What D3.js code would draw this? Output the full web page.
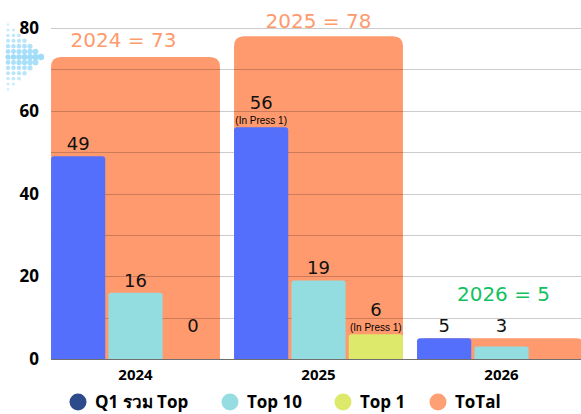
<!DOCTYPE html>
<html>
<head>
<meta charset="utf-8">
<script src="https://cdn.jsdelivr.net/npm/d3@7"></script>
<style>
  body { margin: 0; background: #fff; }
  text { font-family: "Liberation Sans", Arial, sans-serif; }
</style>
</head>
<body>
<div class="chart"></div>
<script>
var years = ["2024", "2025", "2026"];
var q1Top = [49, 56, 5];
var top10 = [16, 19, 3];
var top1 = [0, 6, 0];
var total = [73, 78, 5];
var top1Shown = [true, true, false];
var inPress = ["", "(In Press  1)", ""];
var q1Press = ["", "(In Press  1)", ""];
var totalLabels = ["2024 = 73", "2025 = 78", "2026 = 5"];
var yTicks = [0, 20, 40, 60, 80];
var seriesNames = ["Q1 รวม Top", "Top 10", "Top 1", "ToTal"];

var W = 581, H = 414;
var svg = d3.select(".chart").append("svg")
    .attr("width", W)
    .attr("height", H);

var x = d3.scaleBand()
    .domain(years)
    .range([44, 593])
    .paddingInner(0.077)
    .paddingOuter(0.0385);

var sub = d3.scaleBand()
    .domain(["q1", "t10", "t1"])
    .range([0, x.bandwidth()])
    .paddingInner(0.055);

var y = d3.scaleLinear()
    .domain([0, 80])
    .range([359, 28]);

// decorative dot triangle
var deco = svg.append("g");
for (var c = 0; c < 7; c++) {
  var n = 13 - c * 2;
  for (var r = 0; r < n; r++) {
    var cy = 57 + (r - (n - 1) / 2) * 5.4;
    var dist = Math.abs(r - (n - 1) / 2) / 6.5;
    deco.append("circle")
        .attr("cx", 8 + c * 5.5)
        .attr("cy", cy)
        .attr("r", 1.2 + (1 - dist) * 1.4 + c * 0.1)
        .attr("fill", "#8fd6f7")
        .attr("opacity", 0.35 + (1 - dist) * 0.5);
  }
}

// x axis line
svg.append("line")
    .attr("x1", 51).attr("x2", W)
    .attr("y1", y(0) + 0.5).attr("y2", y(0) + 0.5)
    .attr("stroke", "#6f6f6f");

// total bars (rounded top)
function topRounded(x0, y0, w, h, rr) {
  rr = Math.min(rr, h, w / 2);
  return "M" + x0 + "," + (y0 + h) +
    "V" + (y0 + rr) +
    "Q" + x0 + "," + y0 + " " + (x0 + rr) + "," + y0 +
    "H" + (x0 + w - rr) +
    "Q" + (x0 + w) + "," + y0 + " " + (x0 + w) + "," + (y0 + rr) +
    "V" + (y0 + h) + "Z";
}

svg.append("g").selectAll("path")
    .data(years)
    .enter().append("path")
      .attr("d", (d, i) => topRounded(x(d), y(total[i]), x.bandwidth(), y(0) - y(total[i]), 10))
      .attr("fill", "#fe9a6d");

// gridlines every 10
var grid = svg.append("g");
d3.range(10, 81, 10).forEach(function(v) {
  grid.append("line")
      .attr("x1", 51).attr("x2", W)
      .attr("y1", Math.round(y(v)) + 0.5).attr("y2", Math.round(y(v)) + 0.5)
      .attr("stroke", "#000")
      .attr("stroke-opacity", 0.2);
});

// y tick labels
svg.append("g").selectAll("text")
    .data(yTicks)
    .enter().append("text")
      .attr("x", 39)
      .attr("y", d => y(d))
      .attr("dy", "0.36em")
      .attr("text-anchor", "end")
      .style("font-family", "'Open Sans', sans-serif")
      .style("font-weight", "bold")
      .style("font-size", "17px")
      .text(d => d);

// sub bars
var subs = [
  { key: "q1", vals: q1Top, color: "#546ffc" },
  { key: "t10", vals: top10, color: "#93dce0" },
  { key: "t1", vals: top1, color: "#dce96a" }
];

subs.forEach(function(s) {
  svg.append("g").selectAll("path")
      .data(years)
      .enter().append("path")
        .attr("d", (d, i) => {
          var v = s.vals[i];
          if (v <= 0) return null;
          return topRounded(x(d) + sub(s.key), y(v), sub.bandwidth(), y(0) - y(v), 3);
        })
        .attr("fill", s.color);
});

// value labels
subs.forEach(function(s) {
  svg.append("g").selectAll("text")
      .data(years)
      .enter().filter((d, i) => s.key != "t1" || top1Shown[i])
      .append("text")
        .attr("x", d => x(d) + sub(s.key) + sub.bandwidth() / 2)
        .attr("y", function(d) {
          var i = years.indexOf(d);
          var v = s.vals[i];
          var extra = (s.key == "q1" && q1Press[i]) || (s.key == "t1" && inPress[i]) ? 12 : 0;
          return Math.min(y(v), y(5)) - 6 - extra;
        })
        .attr("text-anchor", "middle")
        .style("font-family", "'DejaVu Sans', sans-serif")
        .style("font-size", "18px")
        .style("fill", "#111")
        .text(d => s.vals[years.indexOf(d)]);
});

// (In Press 1) notes
svg.append("g").selectAll("text")
    .data(years)
    .enter().append("text")
      .attr("x", d => x(d) + sub("q1") + sub.bandwidth() / 2)
      .attr("y", (d, i) => y(q1Top[i]) - 3)
      .attr("text-anchor", "middle")
      .style("font-size", "10px")
      .text((d, i) => q1Press[i]);

svg.append("g").selectAll("text")
    .data(years)
    .enter().append("text")
      .attr("x", d => x(d) + sub("t1") + sub.bandwidth() / 2)
      .attr("y", (d, i) => y(top1[i]) - 3)
      .attr("text-anchor", "middle")
      .style("font-size", "10px")
      .text((d, i) => inPress[i]);

// total annotations
var annColor = ["#fe9a6d", "#fe9a6d", "#13c060"];
var annX = [-12, 0, 2];
var annY = [y(total[0]) - 10, y(total[1]) - 8, y(15) + 4];
svg.append("g").selectAll("text")
    .data(years)
    .enter().append("text")
      .attr("x", (d, i) => x(d) + x.bandwidth() / 2 + annX[i])
      .attr("y", (d, i) => annY[i])
      .attr("text-anchor", "middle")
      .style("font-family", "'DejaVu Sans', sans-serif")
      .style("font-size", "20px")
      .style("fill", (d, i) => annColor[i])
      .text((d, i) => totalLabels[i]);

// x labels
svg.append("g").selectAll("text")
    .data(years)
    .enter().append("text")
      .attr("x", d => x(d) + x.bandwidth() / 2)
      .attr("y", 380)
      .attr("text-anchor", "middle")
      .style("font-family", "'Open Sans', sans-serif")
      .style("font-weight", "bold")
      .style("font-size", "15px")
      .text(d => d);

// legend
var legendColors = ["#2d4b8a", "#95dde0", "#dde96a", "#ff9f74"];
var legendX = [78, 230, 343, 438];
var legend = svg.append("g");
seriesNames.forEach(function(name, i) {
  legend.append("circle")
      .attr("cx", legendX[i]).attr("cy", 402)
      .attr("r", 8.5)
      .attr("fill", legendColors[i]);
  legend.append("text")
      .attr("x", legendX[i] + 17)
      .attr("y", 402)
      .attr("dy", "0.36em")
      .style("font-family", "'Open Sans', 'Noto Sans', sans-serif")
      .style("font-weight", "bold")
      .style("font-size", "17px")
      .text(name);
});
</script>
</body>
</html>
